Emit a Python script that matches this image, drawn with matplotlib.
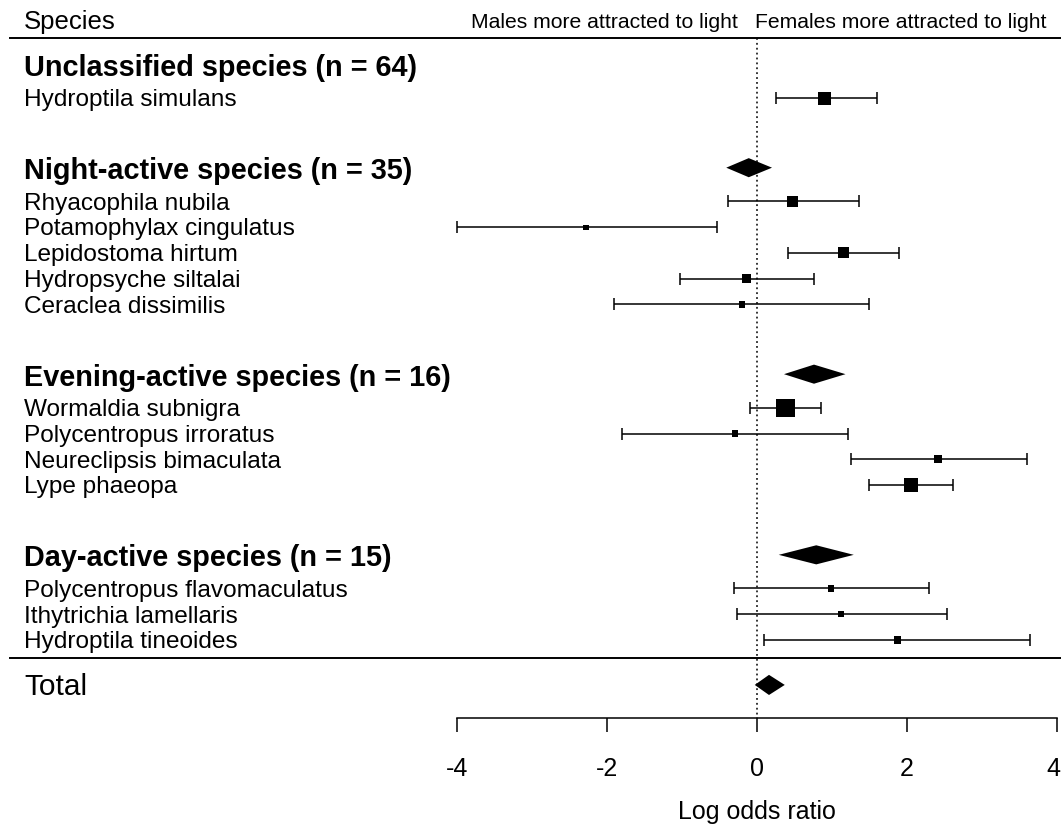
import numpy as np
import matplotlib.pyplot as plt
import matplotlib.transforms as mtransforms

plt.rcParams['font.family'] = ['Liberation Sans', 'DejaVu Sans']

# subgroups (summary diamond: lower, estimate, upper; None = no pooled estimate)
group_labels = ['Unclassified species (n = 64)', 'Night-active species (n = 35)',
                'Evening-active species (n = 16)', 'Day-active species (n = 15)']
group_lo = [None, -0.41, 0.36, 0.29]
group_est = [None, -0.11, 0.76, 0.79]
group_hi = [None, 0.20, 1.18, 1.29]

# individual species, log odds ratio with 95% CI
species = ['Hydroptila simulans',
           'Rhyacophila nubila', 'Potamophylax cingulatus', 'Lepidostoma hirtum',
           'Hydropsyche siltalai', 'Ceraclea dissimilis',
           'Wormaldia subnigra', 'Polycentropus irroratus', 'Neureclipsis bimaculata',
           'Lype phaeopa',
           'Polycentropus flavomaculatus', 'Ithytrichia lamellaris', 'Hydroptila tineoides']
species_group = [0, 1, 1, 1, 1, 1, 2, 2, 2, 2, 3, 3, 3]
est = [0.90, 0.47, -2.28, 1.15, -0.14, -0.20, 0.38, -0.29, 2.41, 2.05, 0.99, 1.12, 1.87]
lo = [0.25, -0.38, -4.00, 0.42, -1.02, -1.90, -0.09, -1.80, 1.26, 1.49, -0.30, -0.26, 0.10]
hi = [1.60, 1.36, -0.53, 1.90, 0.76, 1.49, 0.85, 1.21, 3.60, 2.62, 2.30, 2.53, 3.64]
weight = [0.72, 0.61, 0.28, 0.61, 0.53, 0.37, 1.00, 0.36, 0.44, 0.78, 0.36, 0.36, 0.39]

total_lo, total_est, total_hi = -0.03, 0.16, 0.37

est = np.array(est)
lo = np.array(lo)
hi = np.array(hi)
weight = np.array(weight)

# row layout: species rows are 1 unit apart, 3 empty rows between groups
rows = []
header_rows = []
r = 0
for g in range(len(group_labels)):
    n = species_group.count(g)
    header_rows.append(r - 1.3)
    rows.extend(range(r, r + n))
    r += n + 3
rows = np.array(rows, dtype=float)
last = rows[-1]
sep_row = last + 0.7
total_row = last + 1.74
axis_row = last + 3.02
top_row = -2.32
title_row = -3.02

fig = plt.figure(figsize=(10.61, 8.27), dpi=100)
ax = fig.add_axes([0, 0, 1, 1])
ax.set_xlim(-757 / 75, 304 / 75)
ax.set_ylim(last + 7.245, -3.797)

left = mtransforms.blended_transform_factory(ax.transAxes, ax.transData)
xl = 24 / 1061
dy = 0.09  # nudge text so the cap height sits on the row

# horizontal rules and the no-effect line
ax.plot([10 / 1061, 1], [top_row, top_row], color='black', lw=1.4, transform=left)
ax.plot([10 / 1061, 1], [sep_row, sep_row], color='black', lw=1.4, transform=left)
ax.plot([0, 0], [top_row, axis_row], color='black', lw=1.1, ls=(0, (1.2, 2.0)))

# column headers
ax.text(xl, title_row + dy, 'Species', transform=left, fontsize=18.5, va='center')
ax.text(-0.26, title_row + dy, 'Males more attracted to light', fontsize=15.2,
        ha='right', va='center')
ax.text(-0.02, title_row + dy, 'Females more attracted to light', fontsize=15.2,
        ha='left', va='center')

# species labels, CIs and weighted squares
for name, y in zip(species, rows):
    ax.text(xl, y + dy, name, transform=left, fontsize=17.6, va='center')
ax.errorbar(est, rows, xerr=[est - lo, hi - est], fmt='none', ecolor='black',
            elinewidth=1.1, capsize=4, capthick=1.1, zorder=2)
ax.scatter(est, rows, marker='s', s=(weight * 13) ** 2, color='black',
           linewidths=0, zorder=3)


def diamond(x_lo, x_est, x_hi, y, h=0.37):
    ax.fill([x_lo, x_est, x_hi, x_est], [y, y - h, y, y + h], color='black',
            lw=0, zorder=3)


# subgroup headers and pooled estimates
for g, label in enumerate(group_labels):
    y = header_rows[g]
    ax.text(xl, y + 0.14, label, transform=left, fontsize=20.8, fontweight='bold',
            va='center')
    if group_est[g] is not None:
        diamond(group_lo[g], group_est[g], group_hi[g], y)

ax.text(xl, total_row + 0.1, 'Total', transform=left, fontsize=21.5, va='center')
diamond(total_lo, total_est, total_hi, total_row, h=0.39)

# x axis drawn at the bottom of the rows
for side in ['top', 'right', 'left']:
    ax.spines[side].set_visible(False)
ax.spines['bottom'].set_position(('data', axis_row))
ax.spines['bottom'].set_bounds(-4, 4)
ax.spines['bottom'].set_linewidth(1.1)
ax.set_xticks([-4, -2, 0, 2, 4])
ax.set_xticklabels(['-4', '-2', '0', '2', '4'])
ax.tick_params(axis='x', length=10, width=1.1, pad=18, labelsize=18)
ax.set_yticks([])
# keep the rightmost tick label inside the figure
last_label = ax.xaxis.get_major_ticks()[-1].label1
last_label.set_horizontalalignment('right')
last_label.set_transform(last_label.get_transform() +
                         mtransforms.ScaledTranslation(2.5 / 72, 0, fig.dpi_scale_trans))
ax.text(0, last + 6.92, 'Log odds ratio', fontsize=18, ha='center', va='baseline')
ax.patch.set_visible(False)

plt.savefig('out.png', dpi=100)
